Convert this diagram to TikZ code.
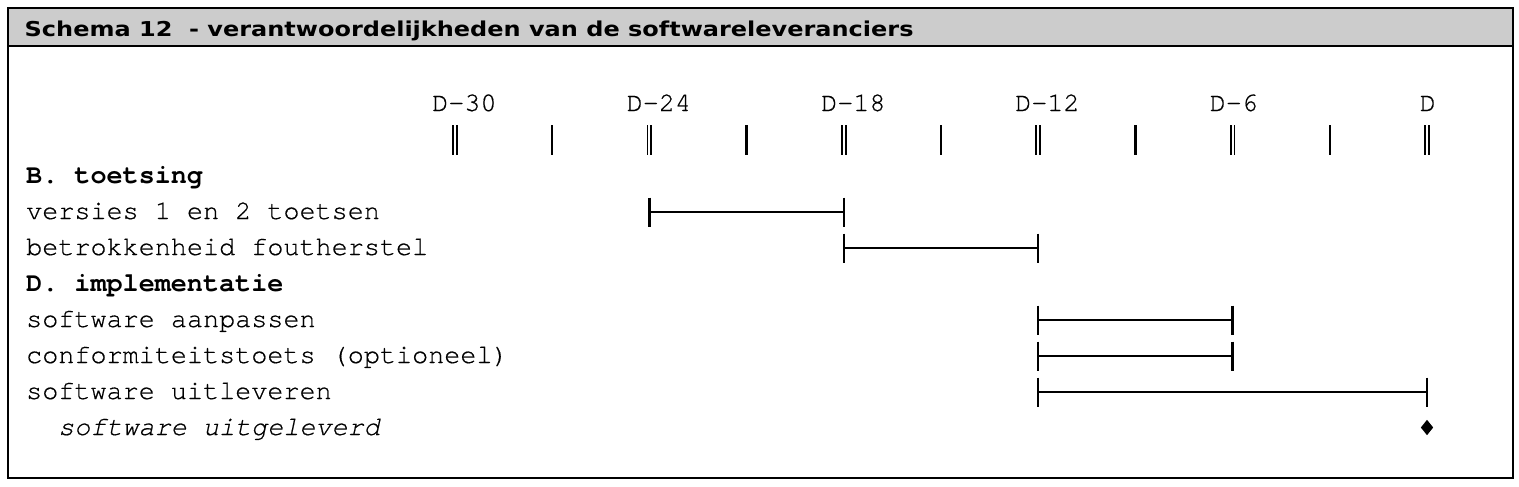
\documentclass[tikz,border=0pt]{standalone}
\usepackage{fontspec}
\usetikzlibrary{shapes.geometric}
\setmainfont{TeX Gyre Cursor}[UprightFeatures={FakeBold=0.5}, ItalicFeatures={FakeBold=0.5}]
\newfontfamily\titlefont[FakeStretch=1.17]{DejaVu Sans}
\definecolor{titlegray}{RGB}{204,204,204}
\tikzset{
  frame/.style={draw=black, line width=2pt},
  titlebar/.style={fill=titlegray, draw=black, line width=2pt},
  titletext/.style={anchor=base west, inner sep=0pt, font=\titlefont\bfseries\fontsize{20.5}{23}\selectfont},
  rowtext/.style={anchor=base west, inner sep=0pt, font=\fontsize{26.8}{30}\selectfont},
  headtext/.style={rowtext, font=\fontsize{26.8}{30}\selectfont\bfseries},
  itaText/.style={rowtext, font=\fontsize{26.8}{30}\selectfont\itshape},
  ticklabel/.style={anchor=base west, inner sep=0pt, font=\fontsize{26.8}{30}\selectfont},
  tickline/.style={line width=1.9pt},
  bar/.style={line width=2.6pt},
  barend/.style={line width=2.4pt},
  milestone/.style={fill=black, draw=none}
}
\begin{document}
\begin{tikzpicture}[x=1pt, y=-1pt]
\useasboundingbox (0,0) rectangle (1519,487);
% frame and title bar
\draw[frame, fill=white] (8.2,7.8) rectangle (1512.5,478);
\draw[titlebar] (8.2,7.8) rectangle (1512.5,45.8);
\node[titletext] (title) at (24.5,36.7) {Schema 12\ \ - verantwoordelijkheden van de softwareleveranciers};

% timeline coordinates
\foreach \i in {0,...,10} {
  \coordinate (t\i) at ({455+97.2*\i},140);
}
% tick labels
\node[ticklabel] (l30) at (432,111) {D-30};
\node[ticklabel] (l24) at (626.5,111) {D-24};
\node[ticklabel] (l18) at (821,111) {D-18};
\node[ticklabel] (l12) at (1015,111) {D-12};
\node[ticklabel] (l6) at (1209.5,111) {D-6};
\node[ticklabel] (l0) at (1419.5,111) {D};
% ticks
\foreach \i in {0,2,4,6,8,10} {
  \draw[tickline] ([xshift=-1.9pt,yshift=15pt]t\i) -- ([xshift=-1.9pt,yshift=-15pt]t\i);
  \draw[tickline] ([xshift=1.9pt,yshift=15pt]t\i) -- ([xshift=1.9pt,yshift=-15pt]t\i);
}
\foreach \i in {1,3,5,7,9} {
  \draw[tickline, line width=2.4pt] ([yshift=15pt]t\i) -- ([yshift=-15pt]t\i);
}

% row labels
\node[headtext] (hB) at (26,183) {B. toetsing};
\node[rowtext] (r1) at (26,219) {versies 1 en 2 toetsen};
\node[rowtext] (r2) at (26,255) {betrokkenheid foutherstel};
\node[headtext] (hD) at (26,291) {D. implementatie};
\node[rowtext] (r3) at (26,327) {software aanpassen};
\node[rowtext] (r4) at (26,363) {conformiteitstoets (optioneel)};
\node[rowtext] (r5) at (26,399) {software uitleveren};
\node[itaText] (r6) at (58,435) {software uitgeleverd};

% row center coordinates
\coordinate (y1) at (0,212);
\coordinate (y2) at (0,248);
\coordinate (y3) at (0,320);
\coordinate (y4) at (0,356);
\coordinate (y5) at (0,392);
\coordinate (y6) at (0,427.5);

% bars
\foreach \a/\b/\r in {2/4/y1, 4/6/y2, 6/8/y3, 6/8/y4, 6/10/y5} {
  \draw[bar] (t\a |- \r) -- (t\b |- \r);
  \draw[barend] ([yshift=14.5pt]t\a |- \r) -- ([yshift=-14.5pt]t\a |- \r);
  \draw[barend] ([yshift=14.5pt]t\b |- \r) -- ([yshift=-14.5pt]t\b |- \r);
}
% milestone diamond
\node[milestone, shape=diamond, minimum width=12.5pt, minimum height=15.5pt, inner sep=0pt] (ms) at (t10 |- y6) {};
\end{tikzpicture}
\end{document}
